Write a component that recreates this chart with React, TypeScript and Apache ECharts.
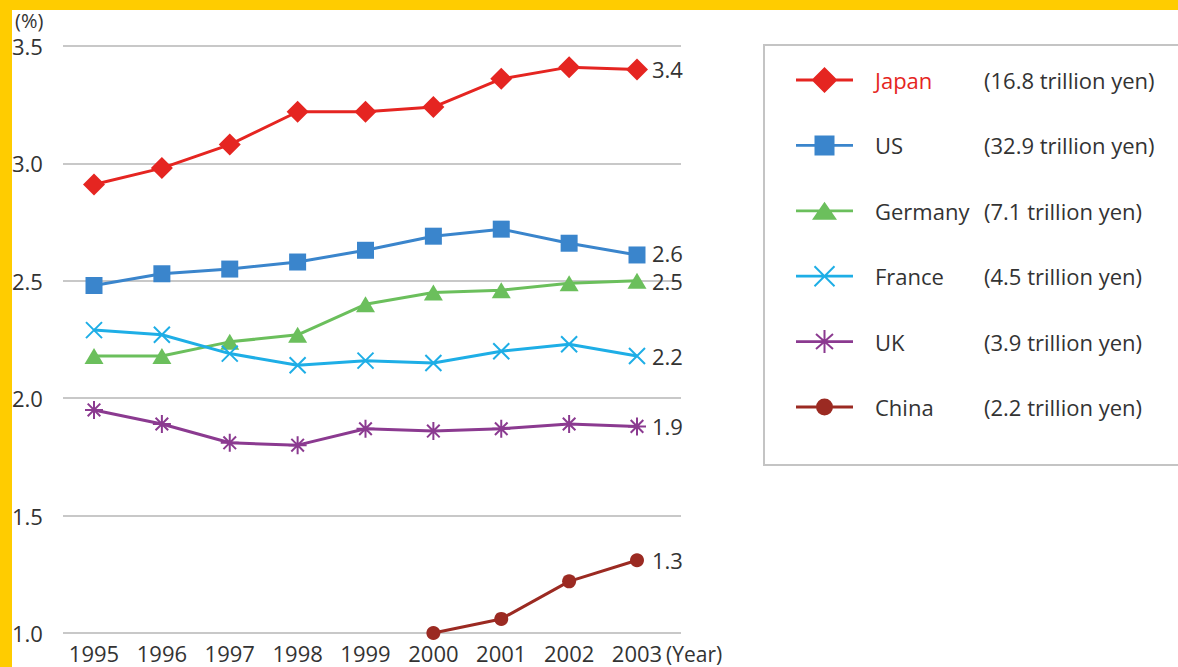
import React, { useEffect, useRef } from "react";
import * as echarts from "echarts";

const years = ["1995", "1996", "1997", "1998", "1999", "2000", "2001", "2002", "2003"];
const japan = [2.91, 2.98, 3.08, 3.22, 3.22, 3.24, 3.36, 3.41, 3.4];
const us = [2.48, 2.53, 2.55, 2.58, 2.63, 2.69, 2.72, 2.66, 2.61];
const germany = [2.18, 2.18, 2.24, 2.27, 2.4, 2.45, 2.46, 2.49, 2.5];
const france = [2.29, 2.27, 2.19, 2.14, 2.16, 2.15, 2.2, 2.23, 2.18];
const uk = [1.95, 1.89, 1.81, 1.8, 1.87, 1.86, 1.87, 1.89, 1.88];
const china = [null, null, null, null, null, 1.0, 1.06, 1.22, 1.31];
const countries = ["Japan", "US", "Germany", "France", "UK", "China"];
const totals = [
  "(16.8 trillion yen)",
  "(32.9 trillion yen)",
  "(7.1 trillion yen)",
  "(4.5 trillion yen)",
  "(3.9 trillion yen)",
  "(2.2 trillion yen)",
];
const endLabels = ["3.4", "2.6", "2.5", "2.2", "1.9", "1.3"];
const yMin = 1.0;
const yMax = 3.5;
const yStep = 0.5;

const FONT = "'Open Sans', 'Noto Sans', sans-serif";
const colors = ["#e52521", "#3a85cc", "#6bbf5c", "#1eaee6", "#8b3a90", "#9b2a22"];
const symbols = [
  "diamond",
  "rect",
  "triangle",
  "path://M0,0L10,10M10,0L0,10",
  "path://M5,0L5,10M0,5L10,5M1.5,1.5L8.5,8.5M8.5,1.5L1.5,8.5",
  "circle",
];
const symbolSizes: any[] = [22, 17, [19, 16], 16, 18, 14];

// legend icon geometry (57 x 28 box)
function seg(x1: number, y1: number, x2: number, y2: number, w: number) {
  const dx = x2 - x1;
  const dy = y2 - y1;
  const L = Math.sqrt(dx * dx + dy * dy);
  const nx = (-dy / L) * (w / 2);
  const ny = (dx / L) * (w / 2);
  let pts = [
    [x1 + nx, y1 + ny],
    [x2 + nx, y2 + ny],
    [x2 - nx, y2 - ny],
    [x1 - nx, y1 - ny],
  ];
  let area = 0;
  for (let i = 0; i < 4; i++) {
    const a = pts[i];
    const b = pts[(i + 1) % 4];
    area += a[0] * b[1] - b[0] * a[1];
  }
  if (area < 0) pts = pts.reverse();
  return "M" + pts.map((p) => p[0].toFixed(2) + "," + p[1].toFixed(2)).join("L") + "Z";
}
const frame = "M0,0M57,28";
const baseLine = seg(0, 14, 57, 14, 2.8);
const legendIcons = [
  "path://" + frame + baseLine + "M28.5,1L41.5,14L28.5,27L15.5,14Z",
  "path://" + frame + baseLine + "M18.5,4L38.5,4L38.5,24L18.5,24Z",
  "path://" + frame + baseLine + "M28.5,5L41,23L16,23Z",
  "path://" + frame + baseLine + seg(18.5, 4, 38.5, 24, 2) + seg(38.5, 4, 18.5, 24, 2),
  "path://" + frame + baseLine + seg(28.5, 2.5, 28.5, 25.5, 2) + seg(20, 6.5, 37, 21.5, 2) + seg(37, 6.5, 20, 21.5, 2),
  "path://" + frame + baseLine + "M20,14A8.5,8.5,0,1,1,37,14A8.5,8.5,0,1,1,20,14Z",
];

export default function App() {
  const ref = useRef<HTMLDivElement>(null);
  useEffect(() => {
    if (!ref.current) return;
    const chart = echarts.init(ref.current, undefined, { renderer: "svg" });
    const seriesData = [japan, us, germany, france, uk, china];
    const series = countries.map((name, i) => ({
      name,
      type: "line",
      xAxisIndex: 0,
      yAxisIndex: 0,
      data: seriesData[i],
      symbol: symbols[i],
      symbolSize: symbolSizes[i],
      showAllSymbol: true,
      lineStyle: { color: colors[i], width: 3 },
      itemStyle: {
        color: colors[i],
        borderColor: colors[i],
        borderWidth: i === 3 || i === 4 ? 2 : 0,
      },
      endLabel: {
        show: true,
        formatter: endLabels[i],
        distance: 15,
        fontSize: 22,
        lineHeight: 18,
        fontFamily: FONT,
        color: "#333",
        offset: i === 1 ? [0, -2] : [0, 0],
      },
      z: 3,
    }));

    chart.setOption({
      animation: false,
      backgroundColor: "#ffffff",
      textStyle: { fontFamily: FONT },
      grid: [
        { left: 94, right: 1178 - 637, top: 46, bottom: 34 },
        { left: 63, right: 1178 - 681, top: 46, bottom: 34 },
      ],
      xAxis: [
        {
          type: "category",
          gridIndex: 0,
          data: years,
          boundaryGap: false,
          axisLine: { show: false },
          axisTick: { show: false },
          splitLine: { show: false },
          axisLabel: { fontSize: 22, color: "#333", margin: 9, fontFamily: FONT },
        },
        { type: "value", gridIndex: 1, show: false, min: 0, max: 1 },
      ],
      yAxis: [
        {
          type: "value",
          gridIndex: 0,
          min: yMin,
          max: yMax,
          interval: yStep,
          show: false,
          splitLine: { show: false },
        },
        {
          type: "value",
          gridIndex: 1,
          min: yMin,
          max: yMax,
          interval: yStep,
          axisLine: { show: false },
          axisTick: { show: false },
          splitLine: { show: true, lineStyle: { color: "#c8c8c8", width: 2 } },
          axisLabel: {
            fontSize: 22,
            lineHeight: 18,
            color: "#333",
            align: "left",
            margin: 51,
            padding: [5, 0, 0, 0],
            fontFamily: FONT,
            formatter: (v: number) => v.toFixed(1),
          },
        },
      ],
      legend: {
        data: countries.map((name, i) => ({
          name,
          icon: legendIcons[i],
          itemStyle: { borderWidth: 0 },
        })),
        orient: "vertical",
        left: 796,
        top: 66,
        padding: 0,
        itemWidth: 57,
        itemHeight: 28,
        itemGap: 37.4,
        selectedMode: false,
        formatter: (name: string) => {
          const i = countries.indexOf(name);
          const tag = i === 0 ? "r" : "n";
          return `{${tag}|${name}}{v|${totals[i]}}`;
        },
        textStyle: {
          fontSize: 22,
          color: "#333",
          fontFamily: FONT,
          padding: [0, 0, 0, 17],
          rich: {
            n: { width: 109, fontSize: 22, lineHeight: 28, color: "#333", fontFamily: FONT },
            r: { width: 109, fontSize: 22, lineHeight: 28, color: "#e52521", fontFamily: FONT },
            v: { fontSize: 22, lineHeight: 28, color: "#333", fontFamily: FONT },
          },
        },
      },
      graphic: [
        { type: "rect", shape: { x: 0, y: 0, width: 1178, height: 10 }, style: { fill: "#FFCC00" }, z: 10 },
        { type: "rect", shape: { x: 0, y: 0, width: 12, height: 667 }, style: { fill: "#FFCC00" }, z: 10 },
        {
          type: "rect",
          shape: { x: 764, y: 45, width: 440, height: 420 },
          style: { fill: "none", stroke: "#c4c4c4", lineWidth: 2 },
          z: 1,
        },
        {
          type: "text",
          x: 15,
          y: 20,
          style: {
            text: "(%)",
            fontSize: 20,
            lineHeight: 16,
            fill: "#333",
            fontFamily: FONT,
            verticalAlign: "middle",
          },
        },
        {
          type: "text",
          x: 666,
          y: 654,
          style: { text: "(Year)", fontSize: 21, fill: "#333", fontFamily: FONT, verticalAlign: "middle" },
        },
      ],
      series,
    });
    return () => chart.dispose();
  }, []);
  return (
    <div
      ref={ref}
      style={{ position: "absolute", left: 0, top: 0, width: 1178, height: 667 }}
    />
  );
}
